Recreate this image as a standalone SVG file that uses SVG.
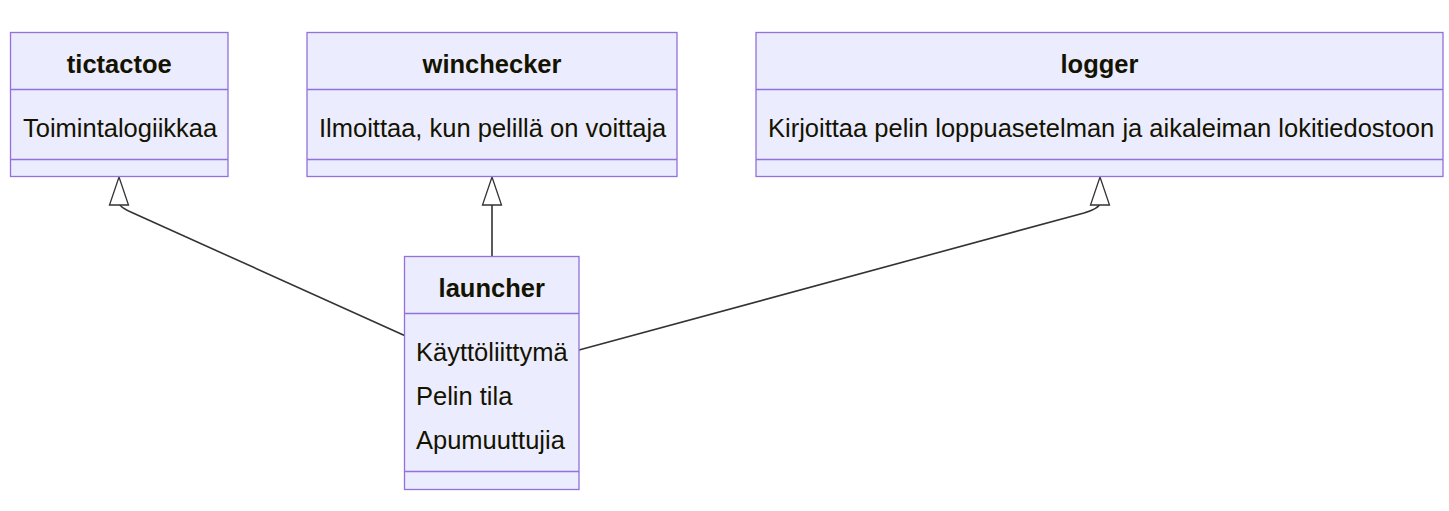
<svg xmlns="http://www.w3.org/2000/svg" width="1449" height="511" viewBox="0 0 1449 511">
<defs>
<style>
.box{fill:#ECECFF;stroke:#9370DB;stroke-width:1.3}
.div{stroke:#9370DB;stroke-width:1.3}
.t{font-family:"Liberation Sans",Arial,sans-serif;font-size:25.5px;fill:#131300}
.b{font-weight:bold;text-anchor:middle}
.e{fill:none;stroke:#333333;stroke-width:1.6}
.ah{fill:#ffffff;stroke:#333333;stroke-width:1.3}
</style>
</defs>
<rect width="1449" height="511" fill="#ffffff"/>
<g id="connectors">
<path class="e" d="M404.5,335.5 L133,213 Q119,207 119,203"/>
<path class="e" d="M492,256 L492,203"/>
<path class="e" d="M579,350 L1084,213 Q1100,208 1100,203"/>
<path class="ah" d="M119,177 L128.5,205 L109.5,205 Z"/>
<path class="ah" d="M492,177 L501.5,205 L482.5,205 Z"/>
<path class="ah" d="M1100,177 L1109.5,205 L1090.5,205 Z"/>
</g>
<g id="tictactoe">
<rect class="box" x="10.5" y="32.5" width="217.5" height="144"/>
<line class="div" x1="10.5" y1="89.5" x2="228" y2="89.5"/>
<line class="div" x1="10.5" y1="159.5" x2="228" y2="159.5"/>
<text class="t b" x="119.25" y="73">tictactoe</text>
<text class="t" x="23" y="137">Toimintalogiikkaa</text>
</g>
<g id="winchecker">
<rect class="box" x="307" y="32.5" width="370" height="144"/>
<line class="div" x1="307" y1="89.5" x2="677" y2="89.5"/>
<line class="div" x1="307" y1="159.5" x2="677" y2="159.5"/>
<text class="t b" x="492" y="73">winchecker</text>
<text class="t" x="319" y="137">Ilmoittaa, kun pelillä on voittaja</text>
</g>
<g id="logger">
<rect class="box" x="756" y="32.5" width="687" height="144"/>
<line class="div" x1="756" y1="89.5" x2="1443" y2="89.5"/>
<line class="div" x1="756" y1="159.5" x2="1443" y2="159.5"/>
<text class="t b" x="1099.5" y="73">logger</text>
<text class="t" x="768" y="137">Kirjoittaa pelin loppuasetelman ja aikaleiman lokitiedostoon</text>
</g>
<g id="launcher">
<rect class="box" x="404.5" y="256.5" width="174.5" height="233"/>
<line class="div" x1="404.5" y1="313.5" x2="579" y2="313.5"/>
<line class="div" x1="404.5" y1="471.5" x2="579" y2="471.5"/>
<text class="t b" x="491.75" y="297">launcher</text>
<text class="t" x="416" y="361">Käyttöliittymä</text>
<text class="t" x="416" y="405">Pelin tila</text>
<text class="t" x="416" y="449">Apumuuttujia</text>
</g>
</svg>
